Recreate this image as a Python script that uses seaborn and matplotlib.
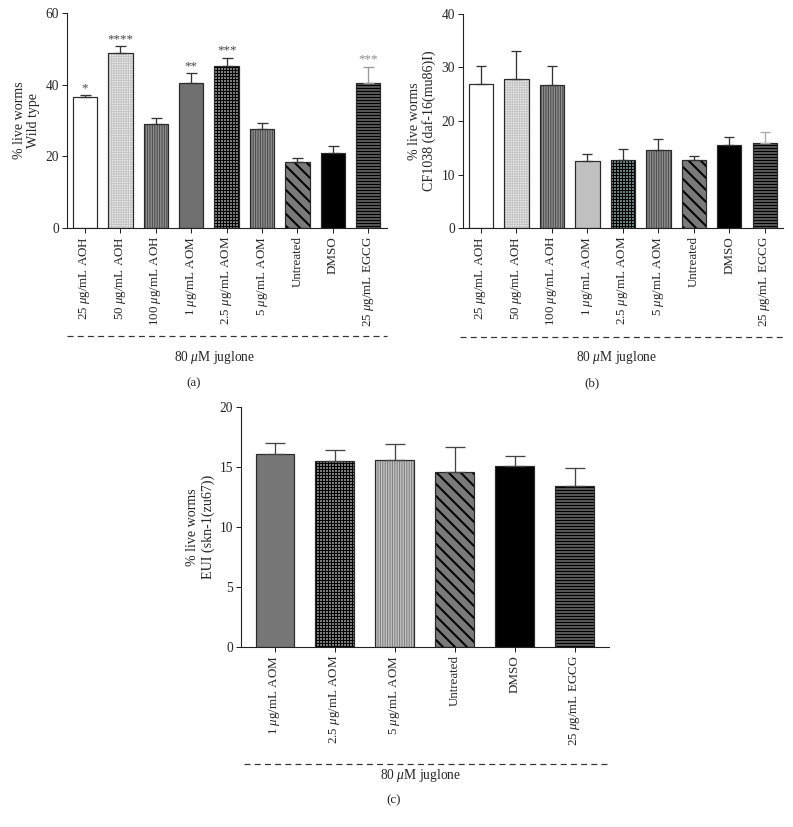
import numpy as np
import pandas as pd
import matplotlib
matplotlib.use("Agg")
import matplotlib.pyplot as plt
from matplotlib.lines import Line2D
import seaborn as sns

# ---------------- data ----------------
cats_a = [r"25 $\mathit{\mu}$g/mL AOH", r"50 $\mathit{\mu}$g/mL AOH", r"100 $\mathit{\mu}$g/mL AOH",
          r"1 $\mathit{\mu}$g/mL AOM", r"2.5 $\mathit{\mu}$g/mL AOM", r"5 $\mathit{\mu}$g/mL AOM",
          "Untreated", "DMSO", r"25 $\mathit{\mu}$g/mL EGCG"]
vals_a = [36.5, 48.7, 29.1, 40.6, 45.1, 27.5, 18.5, 21.0, 40.5]
errs_a = [0.6, 2.0, 1.7, 2.6, 2.4, 1.7, 1.1, 1.9, 4.5]
stars_a = ["*", "****", "", "**", "***", "", "", "", "***"]

cats_b = cats_a
vals_b = [26.9, 27.9, 26.7, 12.6, 12.8, 14.6, 12.7, 15.5, 15.9]
errs_b = [3.4, 5.1, 3.6, 1.2, 2.0, 2.0, 0.8, 1.5, 2.1]

cats_c = [r"1 $\mathit{\mu}$g/mL AOM", r"2.5 $\mathit{\mu}$g/mL AOM", r"5 $\mathit{\mu}$g/mL AOM",
          "Untreated", "DMSO", r"25 $\mathit{\mu}$g/mL EGCG"]
vals_c = [16.1, 15.5, 15.6, 14.6, 15.1, 13.4]
errs_c = [0.9, 0.9, 1.3, 2.1, 0.8, 1.5]

# ---------------- style ----------------
sns.set_theme(style="ticks")
plt.rcParams["font.family"] = ["Liberation Serif", "DejaVu Serif"]
plt.rcParams["mathtext.fontset"] = "custom"
plt.rcParams["mathtext.rm"] = "Liberation Serif"
plt.rcParams["mathtext.it"] = "Liberation Serif:italic"
plt.rcParams["hatch.linewidth"] = 1.0

W, H = 793, 827
fig = plt.figure(figsize=(W / 72, H / 72), dpi=72)


def fx(px):
    return px / W


def fy(py):
    return 1 - py / H


def draw_panel(ax, cats, vals, errs, faces, hatches, hcols, ecols, width, capsize, xlim, ylim, yticks, ylabel):
    df = pd.DataFrame({"cat": cats, "val": vals})
    sns.barplot(data=df, x="cat", y="val", order=cats, width=width, ax=ax,
                errorbar=None, linewidth=0, color="white")
    for p, f, h, hc in zip(ax.patches, faces, hatches, hcols):
        p.set_facecolor(f)
        if h:
            p.set_hatch(h)
            p.set_edgecolor(hc)
        else:
            p.set_edgecolor("none")
        p.set_linewidth(0)
    sns.barplot(data=df, x="cat", y="val", order=cats, width=width, ax=ax,
                errorbar=None, fill=False, linewidth=1.2, color="#2a2a2a")
    xs = np.arange(len(cats))
    for x, v, e, c in zip(xs, vals, errs, ecols):
        ax.errorbar([x], [v], yerr=[[0], [e]], fmt="none", ecolor=c,
                    elinewidth=1.3, capsize=capsize, capthick=1.3, zorder=5)
    ax.set_xlim(*xlim)
    ax.set_ylim(*ylim)
    ax.set_yticks(yticks)
    ax.set_yticklabels([str(t) for t in yticks], fontsize=13.5)
    ax.set_xticks(xs)
    ax.set_xticklabels(cats, rotation=90, fontsize=13)
    ax.set_xlabel("")
    ax.set_ylabel(ylabel, fontsize=14, labelpad=5, linespacing=1.15)
    ax.tick_params(axis="both", direction="out", length=5, width=1.0, color="#222", pad=3)
    for s in ["top", "right"]:
        ax.spines[s].set_visible(False)
    for s in ["left", "bottom"]:
        ax.spines[s].set_linewidth(1.1)
        ax.spines[s].set_color("#222")
    ax.set_facecolor("white")


# panel a
ax_a = fig.add_axes([fx(67), fy(228), (387 - 67) / W, 215 / H])
faces_a = ["white", "#f0f0f0", "#8e8e8e", "#707070", "#7a7a7a", "#8e8e8e", "#7a7a7a", "black", "#555555"]
hatch_a = ["", "+++++", "|||||", "", "++++", "|||||", "\\\\", "", "----"]
hcol_a = ["none", "#c4c4c4", "#4a4a4a", "none", "black", "#4a4a4a", "black", "none", "black"]
ecol_a = ["#333"] * 8 + ["#999"]
draw_panel(ax_a, cats_a, vals_a, errs_a, faces_a, hatch_a, hcol_a, ecol_a, 0.69, 5.5,
           (-0.508, 8.53), (0, 60), [0, 20, 40, 60], "% live worms\nWild type")
for i, (v, e, s) in enumerate(zip(vals_a, errs_a, stars_a)):
    if s:
        ax_a.text(i, v + e + 0.3, s, ha="center", va="bottom", fontsize=13,
                  color="#888" if i == 8 else "#444")

# panel b
ax_b = fig.add_axes([fx(463), fy(228), (783 - 463) / W, 214 / H])
faces_b = ["white", "#f0f0f0", "#8e8e8e", "#c0c0c0", "#6a8080", "#8e8e8e", "#7a7a7a", "black", "#555555"]
hcol_b = ["none", "#c4c4c4", "#4a4a4a", "none", "black", "#4a4a4a", "black", "none", "black"]
ecol_b = ["#333"] * 8 + ["#aaa"]
draw_panel(ax_b, cats_b, vals_b, errs_b, faces_b, hatch_a, hcol_b, ecol_b, 0.68, 5,
           (-0.507, 8.51), (0, 40), [0, 10, 20, 30, 40], "% live worms\nCF1038 (daf-16(mu86)I)")

# panel c
ax_c = fig.add_axes([fx(241), fy(647), (609 - 241) / W, 240 / H])
faces_c = ["#777777", "#7a7a7a", "#c4c4c4", "#7a7a7a", "black", "#555555"]
hatch_c = ["", "++++", "|||||", "\\\\", "", "----"]
hcol_c = ["none", "black", "#7a7a7a", "black", "none", "black"]
ecol_c = ["#444"] * 6
draw_panel(ax_c, cats_c, vals_c, errs_c, faces_c, hatch_c, hcol_c, ecol_c, 0.65, 10,
           (-0.567, 5.57), (0, 20), [0, 5, 10, 15, 20], "% live worms\nEUI (skn-1(zu67))")

# thicker diagonal hatches where supported
for ax in (ax_a, ax_b, ax_c):
    for p in ax.patches:
        if p.get_hatch() == "\\\\" and hasattr(p, "set_hatch_linewidth"):
            p.set_hatch_linewidth(2.0)

# group annotations
for (x0, x1, yl, xt, yt, xp, yp, lab) in [
    (67, 387, 336, 215, 357, 194, 383, "(a)"),
    (460, 783, 337, 617, 357, 592, 383, "(b)"),
    (244, 609, 764, 421, 775, 394, 800, "(c)"),
]:
    fig.add_artist(Line2D([fx(x0), fx(x1)], [fy(yl), fy(yl)], color="#333",
                          lw=1.2, linestyle=(0, (5, 3.5)), transform=fig.transFigure))
    fig.text(fx(xt), fy(yt), r"80 $\mathit{\mu}$M juglone", ha="center", va="center", fontsize=13.5)
    fig.text(fx(xp), fy(yp), lab, ha="center", va="center", fontsize=13)

fig.savefig("out.png", dpi=72, facecolor="white")
